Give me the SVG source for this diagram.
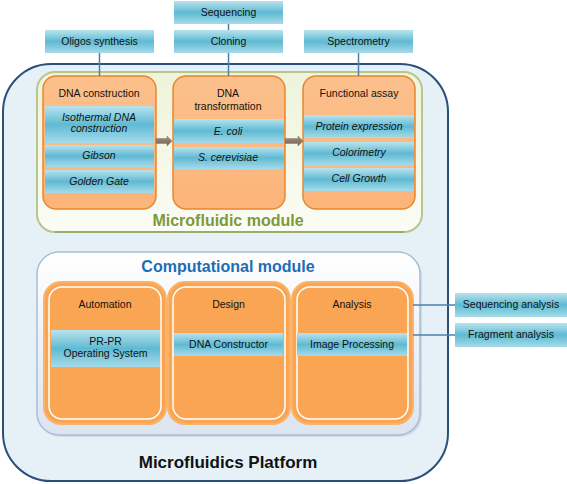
<svg xmlns="http://www.w3.org/2000/svg" width="567" height="484" viewBox="0 0 567 484">
<defs>
<linearGradient id="bar" x1="0" y1="0" x2="0" y2="1">
<stop offset="0" stop-color="#b9e3ee"/>
<stop offset="0.5" stop-color="#5fbad3"/>
<stop offset="1" stop-color="#a6dbe9"/>
</linearGradient>
<linearGradient id="or1" x1="0" y1="0" x2="0" y2="1">
<stop offset="0" stop-color="#fbc08c"/>
<stop offset="1" stop-color="#fbb47a"/>
</linearGradient>
<linearGradient id="mf" x1="0" y1="0" x2="0" y2="1">
<stop offset="0" stop-color="#eef3da"/>
<stop offset="1" stop-color="#fbfcf5"/>
</linearGradient>
<linearGradient id="cm" x1="0" y1="0" x2="0" y2="1">
<stop offset="0" stop-color="#ffffff"/>
<stop offset="1" stop-color="#dbe4f0"/>
</linearGradient>
<linearGradient id="arr" x1="0" y1="0" x2="0" y2="1">
<stop offset="0" stop-color="#a89480"/>
<stop offset="1" stop-color="#6e5e50"/>
</linearGradient>
<style>
text{font-family:"Liberation Sans",Arial,sans-serif;font-size:10.5px;fill:#111;text-anchor:middle}
.it{font-style:italic}
.bar{fill:url(#bar)}
.tbox{fill:url(#bar)}
.or1{fill:url(#or1);stroke:#e8872f;stroke-width:1.5}
.or2{fill:#f9a553;stroke:#fbb36a;stroke-width:2}
.inner{fill:none;stroke:#ffffff;stroke-width:1.5}
.conn{stroke:#4f7fad;stroke-width:1.5;fill:none}
.arrow{fill:url(#arr);stroke:#8a7a68;stroke-width:0.5}
</style>
</defs>
<rect width="567" height="484" fill="#ffffff"/>

<g id="platform">
<rect x="3" y="64" width="445" height="417" rx="48" fill="#e5f1f7" stroke="#2b4f7a" stroke-width="2"/>
<text x="228" y="468" style="font-size:17px;font-weight:bold">Microfluidics Platform</text>
</g>

<g id="microfluidic-module">
<rect x="37" y="72" width="385" height="160" rx="18" fill="url(#mf)" stroke="#b6c68c" stroke-width="2"/>
<path d="M55 232 H404" stroke="#8fa35a" stroke-width="1.5"/>
<text x="228" y="226" style="font-size:16px;font-weight:bold;fill:#7c9a3c">Microfluidic module</text>
</g>

<g id="computational-module">
<rect x="39" y="254" width="383" height="183" rx="22" fill="#b9c3cf" opacity="0.5"/>
<rect x="37" y="252" width="383" height="183" rx="22" fill="url(#cm)" stroke="#a9bdd6" stroke-width="1.5"/>
<text x="228" y="272" style="font-size:16px;font-weight:bold;fill:#1d6db5">Computational module</text>
</g>

<g id="dna-construction">
<rect class="or1" x="43" y="76" width="113" height="133" rx="13"/>
<text x="99" y="97">DNA construction</text>
<rect class="bar" x="45" y="106" width="109" height="37"/>
<text class="it" x="99" y="121">Isothermal DNA</text>
<text class="it" x="99" y="132">construction</text>
<rect class="bar" x="45" y="145" width="109" height="22"/>
<text class="it" x="99" y="159">Gibson</text>
<rect class="bar" x="45" y="170" width="109" height="23"/>
<text class="it" x="99" y="185">Golden Gate</text>
</g>

<g id="dna-transformation">
<rect class="or1" x="173" y="76" width="112" height="133" rx="13"/>
<text x="228" y="97">DNA</text>
<text x="228" y="110">transformation</text>
<rect class="bar" x="174" y="119" width="110" height="24"/>
<text class="it" x="228" y="135">E. coli</text>
<rect class="bar" x="174" y="147" width="110" height="22"/>
<text class="it" x="228" y="161">S. cerevisiae</text>
</g>

<g id="functional-assay">
<rect class="or1" x="303" y="76" width="112" height="133" rx="13"/>
<text x="359" y="97">Functional assay</text>
<rect class="bar" x="304" y="115" width="110" height="23"/>
<text class="it" x="359" y="130">Protein expression</text>
<rect class="bar" x="304" y="142" width="110" height="23"/>
<text class="it" x="359" y="156">Colorimetry</text>
<rect class="bar" x="304" y="168" width="110" height="23"/>
<text class="it" x="359" y="182">Cell Growth</text>
</g>

<g id="oligos-synthesis">
<rect class="tbox" x="45" y="30" width="109" height="23"/>
<text x="99.5" y="45">Oligos synthesis</text>
</g>
<g id="sequencing">
<rect class="tbox" x="174" y="1" width="109" height="23"/>
<text x="228.5" y="16">Sequencing</text>
</g>
<g id="cloning">
<rect class="tbox" x="174" y="30" width="109" height="23"/>
<text x="228.5" y="45">Cloning</text>
</g>
<g id="spectrometry">
<rect class="tbox" x="304" y="30" width="109" height="23"/>
<text x="358.5" y="45">Spectrometry</text>
</g>

<g id="automation">
<rect class="or2" x="44" y="282" width="122" height="142" rx="17"/>
<rect class="inner" x="49" y="287" width="112" height="132" rx="13"/>
<text x="105" y="308">Automation</text>
<rect class="bar" x="51" y="330" width="109" height="37"/>
<text x="105.5" y="345">PR-PR</text>
<text x="105.5" y="357">Operating System</text>
</g>

<g id="design">
<rect class="or2" x="168" y="282" width="122" height="142" rx="17"/>
<rect class="inner" x="173" y="287" width="112" height="132" rx="13"/>
<text x="228.5" y="308">Design</text>
<rect class="bar" x="174" y="333" width="109" height="23"/>
<text x="228.5" y="348">DNA Constructor</text>
</g>

<g id="analysis">
<rect class="or2" x="292" y="282" width="121" height="142" rx="17"/>
<rect class="inner" x="297" y="287" width="111" height="132" rx="13"/>
<text x="352" y="308">Analysis</text>
<rect class="bar" x="297" y="333" width="110" height="23"/>
<text x="352" y="348">Image Processing</text>
</g>

<g id="sequencing-analysis">
<rect class="tbox" x="455" y="293" width="112" height="24"/>
<text x="511" y="308">Sequencing analysis</text>
</g>
<g id="fragment-analysis">
<rect class="tbox" x="455" y="323" width="112" height="24"/>
<text x="511" y="338">Fragment analysis</text>
</g>

<g id="connectors">
<line class="conn" x1="99.5" y1="53" x2="99.5" y2="76"/>
<line class="conn" x1="228.5" y1="24" x2="228.5" y2="30"/>
<line class="conn" x1="228.5" y1="53" x2="228.5" y2="76"/>
<line class="conn" x1="358.5" y1="53" x2="358.5" y2="76"/>
<line class="conn" x1="413" y1="305" x2="455" y2="305"/>
<line class="conn" x1="413" y1="335" x2="455" y2="335"/>
<path class="arrow" d="M156 138.5 H167 V136 L172 141 L167 146 V143.5 H156 Z"/>
<path class="arrow" d="M285 138.5 H298 V136 L303 141 L298 146 V143.5 H285 Z"/>
</g>
</svg>
